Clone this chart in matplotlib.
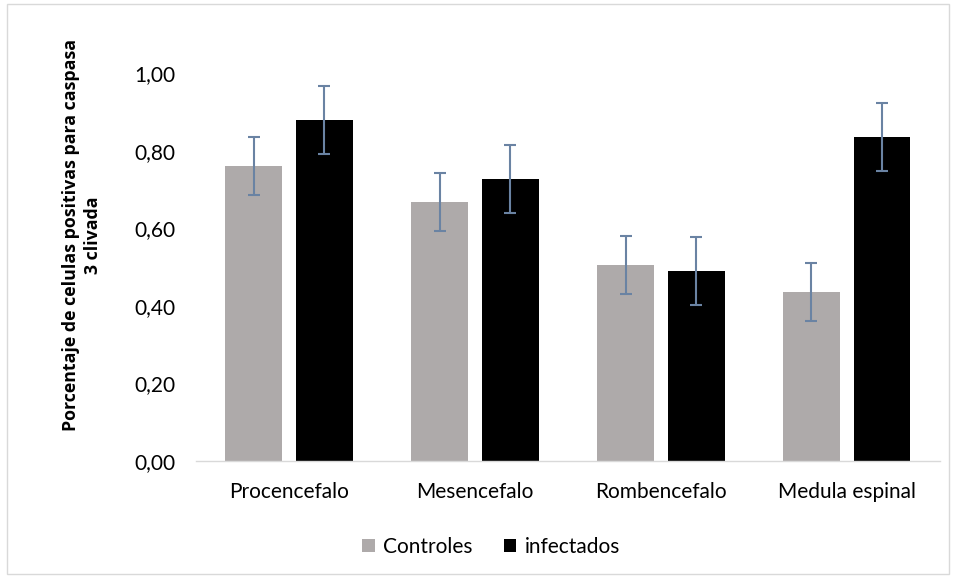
import matplotlib
matplotlib.use("Agg")
import matplotlib.pyplot as plt
import numpy as np
from matplotlib.patches import Rectangle

categories = ["Procencefalo", "Mesencefalo", "Rombencefalo", "Medula espinal"]
controles = [0.760, 0.668, 0.505, 0.436]
controles_err = [0.075, 0.075, 0.075, 0.075]
infectados = [0.879, 0.727, 0.490, 0.835]
infectados_err = [0.087, 0.087, 0.087, 0.088]
yticks = [0.0, 0.2, 0.4, 0.6, 0.8, 1.0]

plt.rcParams['font.family'] = ['Lato', 'DejaVu Sans']
fs = 15

fig = plt.figure(figsize=(9.56, 5.78), dpi=100)
ax = fig.add_axes([0.205, 0.2024, 0.778, 0.6713])

x = np.arange(len(categories))
w = 0.305
off = 0.19
err_kw = dict(ecolor="#6a83a3", elinewidth=1.5, capsize=4.5, capthick=1.5)
ax.bar(x - off, controles, w, yerr=controles_err, color="#aeaaaa",
       label="Controles", error_kw=err_kw, zorder=2)
ax.bar(x + off, infectados, w, yerr=infectados_err, color="#000000",
       label="infectados", error_kw=err_kw, zorder=2)

ax.set_xlim(-0.5, 3.5)
ax.set_ylim(0, 1.0)
ax.set_yticks(yticks)
ax.set_yticklabels([f"{v:.2f}".replace(".", ",") for v in yticks])
ax.set_xticks(x)
ax.set_xticklabels(categories)
ax.tick_params(axis="both", length=0, labelsize=fs, colors="#000000")
ax.tick_params(axis="y", pad=15)
ax.tick_params(axis="x", pad=15)

for s in ["top", "right", "left"]:
    ax.spines[s].set_visible(False)
ax.spines["bottom"].set_color("#d9d9d9")
ax.spines["bottom"].set_linewidth(1)

ax.set_ylabel("Porcentaje de celulas positivas para caspasa\n3 clivada",
              fontsize=12.8, fontweight="bold", linespacing=1.3,
              family=["Open Sans", "DejaVu Sans"])
ax.yaxis.set_label_coords(-0.126, 0.582)

fig.legend(*ax.get_legend_handles_labels(), loc="center",
           bbox_to_anchor=(491 / 956, 31 / 578),
           ncol=2, frameon=False, fontsize=fs, handlelength=0.6,
           handleheight=0.6, columnspacing=1.5, handletextpad=0.4)

fig.patches.append(Rectangle((7 / 956, 4 / 578), 942 / 956, 570 / 578,
                             transform=fig.transFigure, fill=False,
                             edgecolor="#d9d9d9", linewidth=1))

fig.savefig("out.png", dpi=100)
